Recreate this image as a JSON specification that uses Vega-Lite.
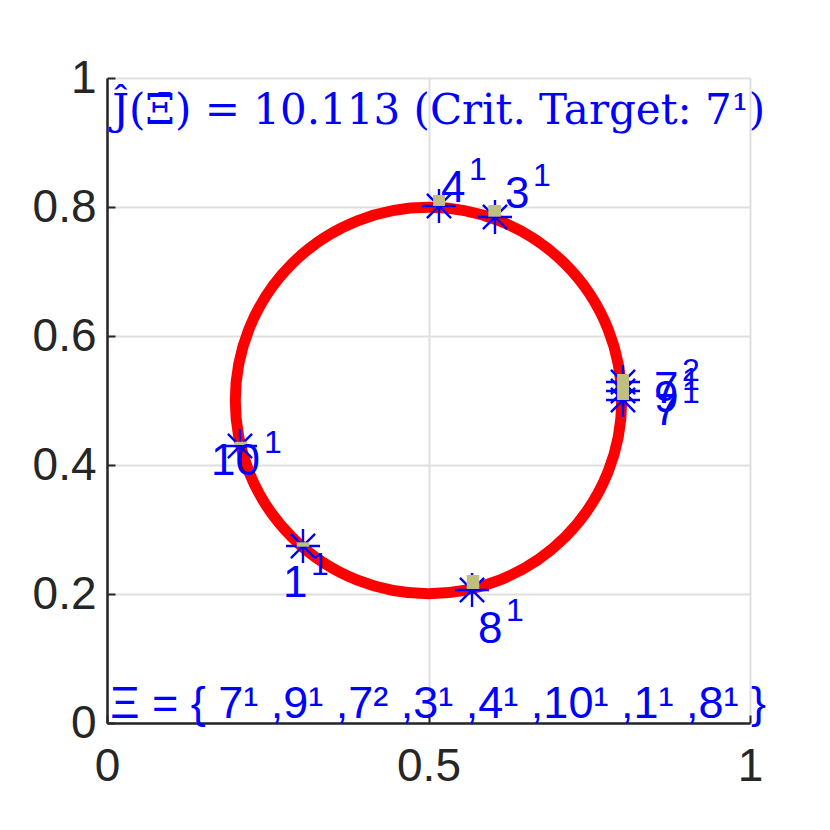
{
  "$schema": "https://vega.github.io/schema/vega-lite/v6.json",
  "width": 643,
  "height": 645,
  "autosize": {"type": "none"},
  "padding": {"left": 107, "top": 78, "right": 80, "bottom": 107},
  "background": "white",
  "config": {
    "view": {"stroke": null},
    "font": "Liberation Sans",
    "axis": {
      "labelFont": "Liberation Sans",
      "labelFontSize": 46,
      "labelColor": "#262626",
      "labelFlush": false,
      "labelOverlap": false,
      "domainColor": "#262626",
      "domainWidth": 2.5,
      "tickColor": "#262626",
      "tickWidth": 2,
      "tickSize": -8,
      "gridColor": "#dfdfdf",
      "gridWidth": 2,
      "title": null,
      "labelExpr": "'' + datum.value"
    }
  },
  "datasets": {
    "circle": [{"cx": 0.5, "cy": 0.5}],
    "stars": [
      {"target": "4", "x": 0.5163, "y": 0.8016},
      {"target": "3", "x": 0.6034, "y": 0.7845},
      {"target": "8", "x": 0.5677, "y": 0.2062},
      {"target": "10", "x": 0.2068, "y": 0.4295},
      {"target": "1", "x": 0.3048, "y": 0.2744},
      {"target": "7b", "x": 0.8025, "y": 0.5287},
      {"target": "9", "x": 0.8025, "y": 0.5147},
      {"target": "7a", "x": 0.8025, "y": 0.5008}
    ],
    "boxes": [
      {"target": "4", "x1": 0.5070, "x2": 0.5257, "y1": 0.8016, "y2": 0.8186},
      {"target": "3", "x1": 0.5930, "x2": 0.6128, "y1": 0.7850, "y2": 0.8031},
      {"target": "8", "x1": 0.5594, "x2": 0.5790, "y1": 0.2078, "y2": 0.2295},
      {"target": "10", "x1": 0.1991, "x2": 0.2182, "y1": 0.4310, "y2": 0.4361},
      {"target": "1", "x1": 0.2950, "x2": 0.3146, "y1": 0.2733, "y2": 0.2802},
      {"target": "7b", "x1": 0.7932, "x2": 0.8118, "y1": 0.5287, "y2": 0.5411},
      {"target": "9", "x1": 0.7932, "x2": 0.8118, "y1": 0.5147, "y2": 0.5287},
      {"target": "7a", "x1": 0.7932, "x2": 0.8118, "y1": 0.5008, "y2": 0.5147}
    ],
    "labels": [
      {"id": "4", "sup": "1", "lx": 0.5194, "ly": 0.8078},
      {"id": "3", "sup": "1", "lx": 0.6190, "ly": 0.7984},
      {"id": "8", "sup": "1", "lx": 0.5770, "ly": 0.1240},
      {"id": "10", "sup": "1", "lx": 0.1617, "ly": 0.3845},
      {"id": "1", "sup": "1", "lx": 0.2737, "ly": 0.1953},
      {"id": "7", "sup": "2", "lx": 0.8507, "ly": 0.4961},
      {"id": "9", "sup": "1", "lx": 0.8507, "ly": 0.4822},
      {"id": "7", "sup": "1", "lx": 0.8507, "ly": 0.4620}
    ],
    "notes": [
      {"kind": "title", "x": 0.008, "y": 0.929, "text": "Ĵ(Ξ̄) = 10.113 (Crit.  Target: 7¹)"},
      {"kind": "set", "x": 0.005, "y": 0.007, "text": "Ξ = { 7¹ ,9¹ ,7² ,3¹ ,4¹ ,10¹ ,1¹ ,8¹ }"}
    ]
  },
  "layer": [
    {
      "data": {"name": "circle"},
      "mark": {"type": "point", "shape": "circle", "filled": false, "stroke": "#ff0000", "strokeWidth": 11, "size": 149305, "opacity": 1},
      "encoding": {
        "x": {"field": "cx", "type": "quantitative", "scale": {"domain": [0, 1], "nice": false, "zero": false}, "axis": {"values": [0, 0.5, 1], "labelPadding": 29}},
        "y": {"field": "cy", "type": "quantitative", "scale": {"domain": [0, 1], "nice": false, "zero": false}, "axis": {"values": [0, 0.2, 0.4, 0.6, 0.8, 1], "labelPadding": 19}}
      }
    },
    {
      "data": {"name": "stars"},
      "mark": {"type": "point", "shape": "M-1,0L1,0M0,-1L0,1M-0.71,-0.71L0.71,0.71M-0.71,0.71L0.71,-0.71", "filled": false, "stroke": "#0000ff", "strokeWidth": 2.4, "size": 1156, "opacity": 1},
      "encoding": {
        "x": {"field": "x", "type": "quantitative"},
        "y": {"field": "y", "type": "quantitative"}
      }
    },
    {
      "data": {"name": "boxes"},
      "mark": {"type": "rect", "fill": "#bfbf80"},
      "encoding": {
        "x": {"field": "x1", "type": "quantitative"},
        "x2": {"field": "x2"},
        "y": {"field": "y1", "type": "quantitative"},
        "y2": {"field": "y2"}
      }
    },
    {
      "data": {"name": "labels"},
      "mark": {"type": "text", "align": "left", "baseline": "alphabetic", "fontSize": 44, "font": "Liberation Sans", "color": "#0000ff"},
      "encoding": {
        "x": {"field": "lx", "type": "quantitative"},
        "y": {"field": "ly", "type": "quantitative"},
        "text": {"field": "id"}
      }
    },
    {
      "data": {"name": "labels"},
      "transform": [{"filter": "length(datum.id) == 1"}],
      "mark": {"type": "text", "align": "left", "baseline": "alphabetic", "fontSize": 32, "font": "Liberation Sans", "color": "#0000ff", "dx": 28, "dy": -22},
      "encoding": {
        "x": {"field": "lx", "type": "quantitative"},
        "y": {"field": "ly", "type": "quantitative"},
        "text": {"field": "sup"}
      }
    },
    {
      "data": {"name": "labels"},
      "transform": [{"filter": "length(datum.id) == 2"}],
      "mark": {"type": "text", "align": "left", "baseline": "alphabetic", "fontSize": 32, "font": "Liberation Sans", "color": "#0000ff", "dx": 53, "dy": -22},
      "encoding": {
        "x": {"field": "lx", "type": "quantitative"},
        "y": {"field": "ly", "type": "quantitative"},
        "text": {"field": "sup"}
      }
    },
    {
      "data": {"name": "notes"},
      "transform": [{"filter": "datum.kind == 'title'"}],
      "mark": {"type": "text", "align": "left", "baseline": "alphabetic", "fontSize": 42, "font": "DejaVu Serif", "color": "#0000ff"},
      "encoding": {
        "x": {"field": "x", "type": "quantitative"},
        "y": {"field": "y", "type": "quantitative"},
        "text": {"field": "text"}
      }
    },
    {
      "data": {"name": "notes"},
      "transform": [{"filter": "datum.kind == 'set'"}],
      "mark": {"type": "text", "align": "left", "baseline": "alphabetic", "fontSize": 45, "font": "Liberation Sans", "color": "#0000ff"},
      "encoding": {
        "x": {"field": "x", "type": "quantitative"},
        "y": {"field": "y", "type": "quantitative"},
        "text": {"field": "text"}
      }
    }
  ]
}
